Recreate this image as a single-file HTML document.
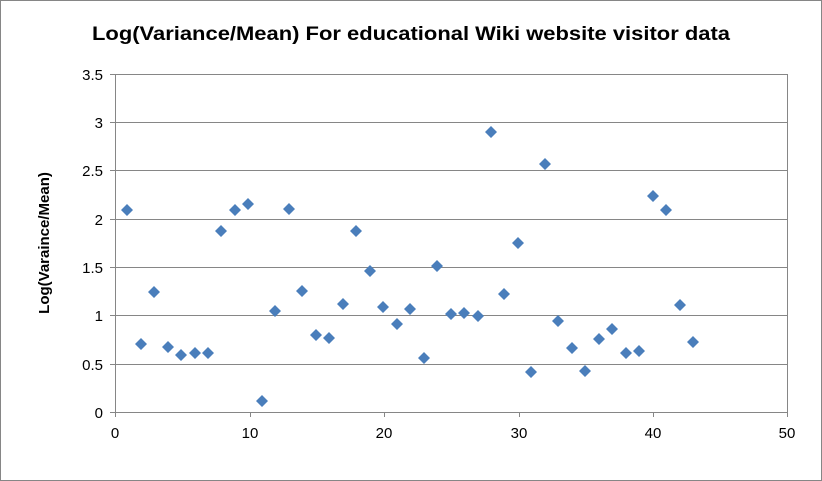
<!DOCTYPE html>
<html><head><meta charset="utf-8"><style>
html,body{margin:0;padding:0;background:#fff;}
svg{display:block;font-family:"Liberation Sans",Calibri,sans-serif;}
</style></head><body>
<svg width="822" height="481" viewBox="0 0 822 481" xmlns="http://www.w3.org/2000/svg">
<rect x="0.5" y="0.5" width="821" height="480" fill="#fff" stroke="#868686"/>
<text x="92" y="40" font-size="19" font-weight="bold" fill="#000" textLength="638" lengthAdjust="spacingAndGlyphs">Log(Variance/Mean) For educational Wiki website visitor data</text>
<g stroke="#868686" stroke-width="1">
<line x1="115" y1="74.5" x2="788" y2="74.5"/>
<line x1="115" y1="122.5" x2="788" y2="122.5"/>
<line x1="115" y1="170.5" x2="788" y2="170.5"/>
<line x1="115" y1="219.5" x2="788" y2="219.5"/>
<line x1="115" y1="267.5" x2="788" y2="267.5"/>
<line x1="115" y1="315.5" x2="788" y2="315.5"/>
<line x1="115" y1="364.5" x2="788" y2="364.5"/>
<line x1="115" y1="412.5" x2="788" y2="412.5"/>
<line x1="115.5" y1="74" x2="115.5" y2="412"/>
<line x1="787.5" y1="74" x2="787.5" y2="412"/>
<line x1="110" y1="74.5" x2="115" y2="74.5"/><line x1="110" y1="122.5" x2="115" y2="122.5"/><line x1="110" y1="170.5" x2="115" y2="170.5"/><line x1="110" y1="219.5" x2="115" y2="219.5"/><line x1="110" y1="267.5" x2="115" y2="267.5"/><line x1="110" y1="315.5" x2="115" y2="315.5"/><line x1="110" y1="364.5" x2="115" y2="364.5"/><line x1="110" y1="412.5" x2="115" y2="412.5"/>
<line x1="115.5" y1="412" x2="115.5" y2="417"/><line x1="250.5" y1="412" x2="250.5" y2="417"/><line x1="384.5" y1="412" x2="384.5" y2="417"/><line x1="519.5" y1="412" x2="519.5" y2="417"/><line x1="653.5" y1="412" x2="653.5" y2="417"/><line x1="787.5" y1="412" x2="787.5" y2="417"/>
</g>
<g font-size="15" fill="#000" text-anchor="end">
<text x="103" y="80">3.5</text><text x="103" y="128">3</text><text x="103" y="176">2.5</text><text x="103" y="225">2</text><text x="103" y="273">1.5</text><text x="103" y="321">1</text><text x="103" y="370">0.5</text><text x="103" y="418">0</text>
</g>
<g font-size="15" fill="#000" text-anchor="middle">
<text x="115" y="438">0</text><text x="250" y="438">10</text><text x="384" y="438">20</text><text x="519" y="438">30</text><text x="653" y="438">40</text><text x="787" y="438">50</text>
</g>
<text transform="translate(49,243) rotate(-90)" text-anchor="middle" font-size="15" font-weight="bold" fill="#000">Log(Varaince/Mean)</text>
<g fill="#4a7ebb">
<path d="M127 204l6 6-6 6-6-6zM141 338l6 6-6 6-6-6zM154 286l6 6-6 6-6-6zM168 341l6 6-6 6-6-6zM181 349l6 6-6 6-6-6zM195 347l6 6-6 6-6-6zM208 347l6 6-6 6-6-6zM221 225l6 6-6 6-6-6zM235 204l6 6-6 6-6-6zM248 198l6 6-6 6-6-6zM262 395l6 6-6 6-6-6zM275 305l6 6-6 6-6-6zM289 203l6 6-6 6-6-6zM302 285l6 6-6 6-6-6zM316 329l6 6-6 6-6-6zM329 332l6 6-6 6-6-6zM343 298l6 6-6 6-6-6zM356 225l6 6-6 6-6-6zM370 265l6 6-6 6-6-6zM383 301l6 6-6 6-6-6zM397 318l6 6-6 6-6-6zM410 303l6 6-6 6-6-6zM424 352l6 6-6 6-6-6zM437 260l6 6-6 6-6-6zM451 308l6 6-6 6-6-6zM464 307l6 6-6 6-6-6zM478 310l6 6-6 6-6-6zM491 126l6 6-6 6-6-6zM504 288l6 6-6 6-6-6zM518 237l6 6-6 6-6-6zM531 366l6 6-6 6-6-6zM545 158l6 6-6 6-6-6zM558 315l6 6-6 6-6-6zM572 342l6 6-6 6-6-6zM585 365l6 6-6 6-6-6zM599 333l6 6-6 6-6-6zM612 323l6 6-6 6-6-6zM626 347l6 6-6 6-6-6zM639 345l6 6-6 6-6-6zM653 190l6 6-6 6-6-6zM666 204l6 6-6 6-6-6zM680 299l6 6-6 6-6-6zM693 336l6 6-6 6-6-6z"/>
</g>
</svg>
</body></html>
